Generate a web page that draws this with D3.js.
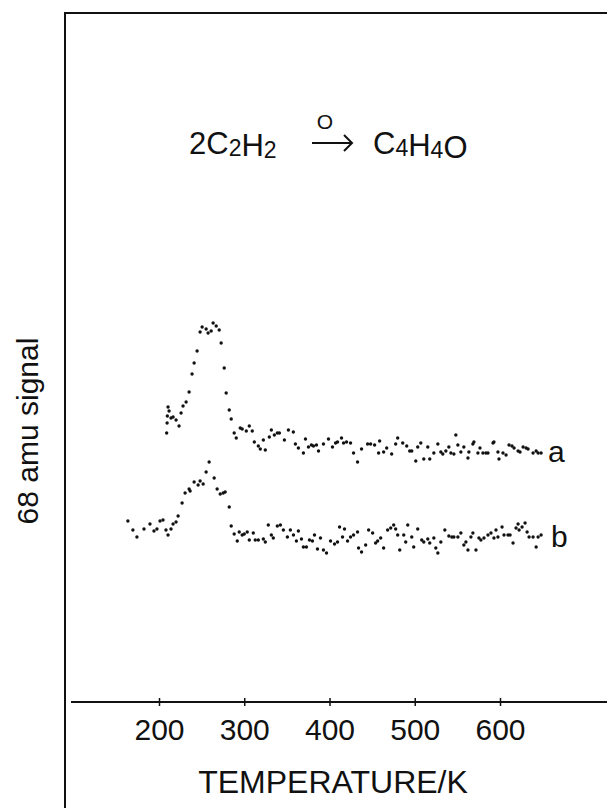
<!DOCTYPE html>
<html>
<head>
<meta charset="utf-8">
<script src="https://cdn.jsdelivr.net/npm/d3@7"></script>
<style>
  body { margin: 0; background: #fff; }
  svg text { font-family: "Liberation Sans", Arial, Helvetica, sans-serif; fill: #111; }
</style>
</head>
<body>
<div id="main"></div>
<script>
// temperature (K) / 68 amu signal (arb. units)
const seriesA = [
  [209,67.25],[209.5,69.75],[209.8,71.5],[210.6,73.75],[211.8,72.75],[214.1,71],[216.5,71.25],[220,70.5],[223.5,69],[225.9,72.25],
  [228.2,74],[231.8,75],[235.3,77.5],[238.8,82],[241.2,84.75],[244.7,87.75],[248.2,92.5],[250.6,93.75],[255.3,93.25],[257.6,92.25],
  [261.2,92.75],[263.5,94.75],[267.1,94],[270.6,93],[272.9,89.75],[276.5,83.5],[278.8,77.25],[282.4,73],[284.7,70.75],[288.2,67.25],
  [290.6,66],[295.3,68.5],[297.6,68.25],[302.4,67.75],[305.9,69],[309.4,67.75],[311.8,65],[316.5,64],[318.8,63.25],[322.4,65.5],
  [324.7,63],[329.4,66.25],[331.8,68],[335.3,66.75],[338.8,67.25],[341.2,67.25],[347.1,65.5],[351.8,68],[357.6,67.5],[360,64.5],
  [363.5,63.5],[369.4,62.25],[371.8,65.75],[375.3,63.75],[378.8,64.25],[381.2,64],[384.7,64.25],[387.1,62.75],[392.9,64.5],[398.8,65.75],
  [403.5,63.75],[407.1,64.75],[409.4,65],[414.1,66],[416.5,64.75],[420,65],[424.7,64.75],[428.2,62.25],[432.9,60],[437.6,63.25],
  [444.7,64.5],[448.2,64.5],[452.9,64.25],[457.6,62.25],[458.8,65.25],[463.5,62.5],[467.1,63.5],[472.9,62],[477.6,64.5],[480,66],
  [485.9,64.75],[490.6,64],[494.1,62.75],[496.5,62.75],[501.2,60.25],[503.5,63.75],[507.1,64.75],[510.6,60.75],[515.3,63.75],[517.6,60.75],
  [522.4,62.25],[527.1,64.5],[530.6,62.5],[532.9,62],[536.5,62.75],[540,63.75],[542.4,62.25],[545.9,62],[548.2,66.75],[550.6,64.25],
  [554.1,62.5],[557.6,63.75],[562.4,61],[563.5,62.5],[568.2,64.5],[569.4,65],[574.1,62.25],[576.5,63.5],[580,62.25],[583.5,62.25],
  [585.9,62.25],[591.8,64.75],[592.9,65],[597.6,62.5],[598.8,60.75],[603.5,62.25],[607.1,61.75],[610.6,64.25],[614.1,64],[616.5,63.5],
  [621.2,62.75],[623.5,62.5],[627.1,63.75],[630.6,63.5],[632.9,63.25],[638.8,62.25],[642.4,62.75],[644.7,62.25],[648.2,62.25]
];

const seriesB = [
  [163.5,45.25],[169.4,43],[174.1,41.25],[182.4,43.25],[189.4,44.5],[194.1,42.75],[197.6,43.25],[201.2,45.25],[204.7,45.5],[208.2,43],
  [210.6,41.75],[214.1,43.25],[216.5,44.5],[220,45],[222.4,46.5],[227.1,49.75],[230.6,52.25],[235.3,53.25],[236.5,52.75],[241.2,55],
  [245.9,54.25],[248.2,55.25],[251.8,54.5],[255.3,57.5],[258.8,60],[264.7,56],[268.2,53.25],[271.8,52],[275.3,52.25],[277.6,52.5],
  [282.4,48.75],[284.7,44],[288.2,42],[291.8,40.25],[294.1,42.5],[297.6,41.75],[300,42],[303.5,42.5],[305.9,40.5],[310.6,42.25],
  [312.9,40.5],[316.5,40.5],[322.4,40.75],[324.7,40],[328.2,44.25],[331.8,41.75],[334.1,41],[338.8,44],[342.4,44.25],[345.9,43],
  [350.6,41.25],[354.1,43],[357.7,41.75],[361.2,40.25],[363.5,42.75],[367.1,40.75],[369.4,38.75],[372.9,38.75],[376.5,40.5],[380,40.25],
  [382.4,41.75],[385.9,38.25],[389.4,41],[392.9,38],[396.5,37.25],[401.2,40.25],[405.9,39.5],[409.4,40],[411.8,43.75],[415.3,41.25],
  [417.6,43.25],[421.2,40.25],[424.7,41.25],[428.2,41.75],[432.9,42.5],[434.1,38.5],[437.6,37.5],[442.4,39.25],[445.9,43],[450.6,42.25],
  [454.1,39.75],[456.5,40.25],[460,41],[463.5,38.5],[468.2,43],[471.8,43.5],[475.3,44.25],[477.6,43.25],[480,41.75],[482.4,38],
  [487.1,41.75],[489.4,40],[491.8,44.25],[496.5,41.25],[498.8,38.75],[503.5,43.25],[508.2,40.5],[510.6,40],[515.3,40.75],[517.6,39.75],
  [522.4,41],[524.7,38.5],[527.1,37.25],[530.6,40],[535.3,43],[540,41.5],[543.5,41.25],[545.9,41.25],[550.6,41.25],[554.1,42.25],
  [557.6,39.25],[560,40],[562.4,38],[565.9,41.25],[568.2,42.25],[571.8,38],[575.3,41],[577.6,40.5],[581.2,41],[585.9,41.75],
  [589.4,42.25],[592.9,41],[595.3,43],[597.6,41.25],[602.4,43.75],[604.7,41.75],[609.4,41.75],[611.8,41.75],[615.3,39.75],[618.8,43.5],
  [621.2,44.5],[622.4,43],[625.9,43.75],[629.4,44.75],[631.8,42.5],[634.1,41.25],[638.8,41.25],[642.4,38.75],[644.7,41.25],[648.2,41.75]
];

const tickTemps = [200, 300, 400, 500, 600];
const seriesNames = ["a", "b"];

const W = 607, H = 808;

const svg = d3.select("#main").append("svg")
    .attr("width", W)
    .attr("height", H);

svg.append("rect").attr("width", W).attr("height", H).attr("fill", "#fff");

const x = d3.scaleLinear().domain([200, 600]).range([159, 500]);
const y = d3.scaleLinear().domain([0, 170]).range([702, 22]);

// frame (left + top only)
svg.append("path")
    .attr("d", `M65,${H} L65,13 L${W},13`)
    .attr("fill", "none")
    .attr("stroke", "#111")
    .attr("stroke-width", 2);

// x axis
const xAxis = d3.axisBottom(x).tickValues(tickTemps).tickSize(4).tickFormat(d3.format("d"));
const gx = svg.append("g")
    .attr("transform", `translate(0,${y(0)})`)
    .call(xAxis);
gx.select(".domain").remove();
gx.selectAll(".tick line").attr("y1", -4).attr("y2", 4).attr("stroke", "#111").attr("stroke-width", 1.5);
gx.selectAll(".tick text")
    .attr("y", 38).attr("dy", 0)
    .attr("font-size", 30)
    .attr("font-family", "Liberation Sans, Arial, sans-serif")
    .attr("fill", "#111");
gx.append("line")
    .attr("x1", 71).attr("x2", W)
    .attr("y1", 0).attr("y2", 0)
    .attr("stroke", "#111").attr("stroke-width", 2);

svg.append("text")
    .attr("x", 333).attr("y", 793)
    .attr("text-anchor", "middle")
    .attr("font-size", 32)
    .text("TEMPERATURE/K");

svg.append("text")
    .attr("transform", "translate(38,431) rotate(-90)")
    .attr("text-anchor", "middle")
    .attr("font-size", 30)
    .text("68 amu signal");

// data points
[seriesA, seriesB].forEach(s => {
  svg.append("g").selectAll("circle")
    .data(s)
    .join("circle")
      .attr("cx", d => x(d[0]))
      .attr("cy", d => y(d[1]))
      .attr("r", 1.7)
      .attr("fill", "#111");
});

// series labels
svg.append("text").attr("x", 548).attr("y", 462).attr("font-size", 30).text(seriesNames[0]);
svg.append("text").attr("x", 551).attr("y", 547).attr("font-size", 30).text(seriesNames[1]);

// reaction: 2C2H2 --O--> C4H4O
function formula(xPos, parts) {
  const t = svg.append("text").attr("x", xPos).attr("y", 154).attr("font-size", 31);
  parts.forEach(p => {
    if (p.sub) {
      t.append("tspan").attr("font-size", 23).attr("dy", 2).text(p.s);
      t.append("tspan").attr("dy", -2).text("");
    } else {
      t.append("tspan").text(p.s);
    }
  });
}
formula(189, [{s: "2C"}, {s: "2", sub: true}, {s: "H"}, {s: "2", sub: true}]);
formula(373, [{s: "C"}, {s: "4", sub: true}, {s: "H"}, {s: "4", sub: true}, {s: "O"}]);

svg.append("path")
    .attr("d", "M312,143 L352,143 M344,135 L352,143 L344,151")
    .attr("fill", "none")
    .attr("stroke", "#111")
    .attr("stroke-width", 2);
svg.append("text")
    .attr("x", 325).attr("y", 129)
    .attr("text-anchor", "middle")
    .attr("font-size", 21)
    .text("O");
</script>
</body>
</html>
